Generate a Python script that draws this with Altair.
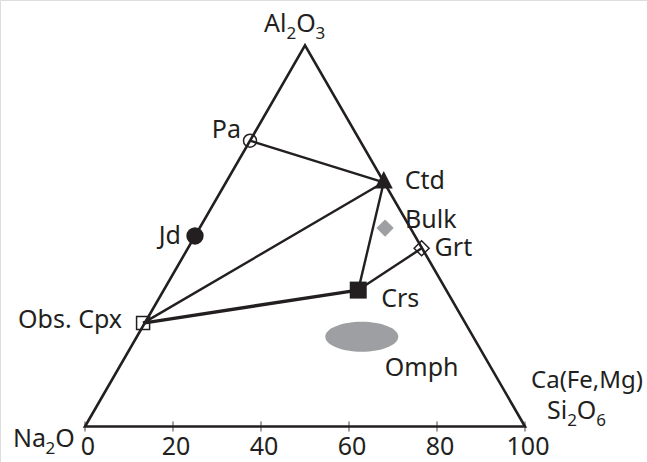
import altair as alt
import pandas as pd

# ---------------- data (ternary plot, x = position along 0-100 base axis, h = height in same units)
corner_names = ["Na2O", "Ca(Fe,Mg)Si2O6", "Al2O3"]
corner_x = [0.0, 100.0, 50.0]
corner_h = [0.0, 0.0, 86.6]

phase_names = ["Pa", "Ctd", "Jd", "Bulk", "Grt", "Obs. Cpx", "Crs"]
phase_x = [37.5, 67.9, 25.0, 68.2, 76.5, 13.2, 62.1]
phase_h = [64.95, 55.5, 43.3, 45.1, 40.5, 23.5, 31.0]

omph_x = [62.9]
omph_h = [20.4]

tie_from = ["Pa", "Ctd", "Ctd", "Crs"]
tie_to = ["Ctd", "Obs. Cpx", "Crs", "Grt"]
thick_from = ["Obs. Cpx"]
thick_to = ["Crs"]

tick_values = [0, 20, 40, 60, 80, 100]

# ---------------- styles
BLACK = "#231f20"
GREY = "#9d9fa2"
FONT = "Noto Sans"
FS = 25
SUB = 17

xs = alt.Scale(domain=[-85 / 4.4, 562 / 4.4], nice=False, zero=False)
ys = alt.Scale(domain=[(426.5 - 462) / 4.4, 426.5 / 4.4], nice=False, zero=False)

def X(f):
    return alt.X(f, type="quantitative", scale=xs, axis=None)

def Y(f):
    return alt.Y(f, type="quantitative", scale=ys, axis=None)

pos = dict(zip(phase_names, zip(phase_x, phase_h)))

def seg_df(a, b):
    return pd.DataFrame({
        "x1": [pos[p][0] for p in a], "y1": [pos[p][1] for p in a],
        "x2": [pos[p][0] for p in b], "y2": [pos[p][1] for p in b],
    })

corners = pd.DataFrame({"x": corner_x, "h": corner_h, "o": [0, 1, 2]})
triangle = alt.Chart(corners).mark_line(
    interpolate="linear-closed", color=BLACK, strokeWidth=2.6, strokeJoin="miter"
).encode(x=X("x"), y=Y("h"), order="o:O")

ties = alt.Chart(seg_df(tie_from, tie_to)).mark_rule(color=BLACK, strokeWidth=2.4).encode(
    x=X("x1"), y=Y("y1"), x2="x2:Q", y2="y2:Q")
thick = alt.Chart(seg_df(thick_from, thick_to)).mark_rule(color=BLACK, strokeWidth=3.4).encode(
    x=X("x1"), y=Y("y1"), x2="x2:Q", y2="y2:Q")

ticks_df = pd.DataFrame({"v": tick_values, "z": [0] * len(tick_values), "lab": [str(t) for t in tick_values]})
tick_marks = alt.Chart(ticks_df).mark_tick(
    orient="vertical", color=BLACK, size=10, thickness=1.2
).encode(x=X("v"), y=Y("z"))
tick_labels = alt.Chart(ticks_df).mark_text(
    font=FONT, fontSize=FS, color=BLACK, baseline="middle", align="center", dy=20, dx=3
).encode(x=X("v"), y=Y("z"), text="lab:N")

ellipse_path = ("M-1,0C-1,-0.2264,-0.5523,-0.41,0,-0.41C0.5523,-0.41,1,-0.2264,1,0"
                "C1,0.2264,0.5523,0.41,0,0.41C-0.5523,0.41,-1,0.2264,-1,0Z")
omph = alt.Chart(pd.DataFrame({"x": omph_x, "h": omph_h})).mark_point(
    shape=ellipse_path, size=73 ** 2, filled=True, fill=GREY, opacity=1, strokeWidth=0
).encode(x=X("x"), y=Y("h"))

marker_style = {
    "Pa": dict(shape="circle", size=169, filled=False, color=BLACK, strokeWidth=1.5),
    "Ctd": dict(shape="M0,-1.25L1,0.7L-1,0.7Z", size=324, filled=True, color=BLACK),
    "Jd": dict(shape="circle", size=300, filled=True, color=BLACK),
    "Bulk": dict(shape="diamond", size=300, filled=True, color=GREY),
    "Grt": dict(shape="diamond", size=225, filled=False, color=BLACK, strokeWidth=1.5),
    "Obs. Cpx": dict(shape="square", size=169, filled=False, color=BLACK, strokeWidth=1.5),
    "Crs": dict(shape="square", size=289, filled=True, color=BLACK),
}
marker_layers = []
for name, x, h in zip(phase_names, phase_x, phase_h):
    st = marker_style[name]
    marker_layers.append(
        alt.Chart(pd.DataFrame({"x": [x], "h": [h]})).mark_point(opacity=1, **st).encode(
            x=X("x"), y=Y("h"))
    )

label_style = {
    "Pa": dict(dx=-9, dy=-11, align="right"),
    "Ctd": dict(dx=21, dy=-1, align="left"),
    "Jd": dict(dx=-14, dy=0, align="right"),
    "Bulk": dict(dx=20, dy=-8, align="left"),
    "Grt": dict(dx=13, dy=0, align="left"),
    "Obs. Cpx": dict(dx=-21, dy=-3, align="right"),
    "Crs": dict(dx=23, dy=9, align="left"),
}
label_layers = []
for name, x, h in zip(phase_names, phase_x, phase_h):
    st = label_style[name]
    label_layers.append(
        alt.Chart(pd.DataFrame({"x": [x], "h": [h], "t": [name]})).mark_text(
            font=FONT, fontSize=FS, color=BLACK, baseline="middle", **st
        ).encode(x=X("x"), y=Y("h"), text="t:N")
    )
label_layers.append(
    alt.Chart(pd.DataFrame({"x": omph_x, "h": omph_h, "t": ["Omph"]})).mark_text(
        font=FONT, fontSize=FS, color=BLACK, baseline="middle", align="left", dx=23, dy=31
    ).encode(x=X("x"), y=Y("h"), text="t:N")
)

# approximate advance widths (em) of Noto Sans glyphs, used to lay out subscripted formulas
ADV = {"A": 0.639, "l": 0.258, "O": 0.779, "N": 0.742, "a": 0.561, "S": 0.548, "i": 0.258,
       "2": 0.572, "3": 0.572, "6": 0.572}

def formula(pieces, x, h, dx0, dy0, sub_drop=7):
    """pieces: list of (text, is_subscript). Left-aligned, alphabetic baseline at (dx0, dy0)."""
    layers = []
    cur = dx0
    for txt, is_sub in pieces:
        size = SUB if is_sub else FS
        layers.append(
            alt.Chart(pd.DataFrame({"x": [x], "h": [h], "t": [txt]})).mark_text(
                font=FONT, fontSize=size, color=BLACK, baseline="alphabetic", align="left",
                dx=cur, dy=dy0 + (sub_drop if is_sub else 0)
            ).encode(x=X("x"), y=Y("h"), text="t:N")
        )
        cur += sum(ADV.get(c, 0.6) for c in txt) * size
    return layers

# vertex labels
label_layers += formula([("Al", False), ("2", True), ("O", False), ("3", True)],
                        corner_x[2], corner_h[2], -41, -13)
label_layers += formula([("Na", False), ("2", True), ("O", False)],
                        corner_x[0], corner_h[0], -72, 20)
label_layers += formula([("Si", False), ("2", True), ("O", False), ("6", True)],
                        corner_x[1], corner_h[1], 22, -8)
label_layers.append(
    alt.Chart(pd.DataFrame({"x": [corner_x[1]], "h": [corner_h[1]], "t": ["Ca(Fe,Mg)"]})).mark_text(
        font=FONT, fontSize=24, color=BLACK, baseline="alphabetic", align="left", dx=6, dy=-39
    ).encode(x=X("x"), y=Y("h"), text="t:N")
)

chart = alt.layer(
    omph, triangle, ties, thick, tick_marks, tick_labels, *marker_layers, *label_layers
).properties(
    width=647, height=462, autosize=alt.AutoSizeParams(type="none"), padding=0
).configure_view(stroke=None).configure(background="white")

chart.save("out.html", embed_options={"renderer": "svg", "actions": False})
